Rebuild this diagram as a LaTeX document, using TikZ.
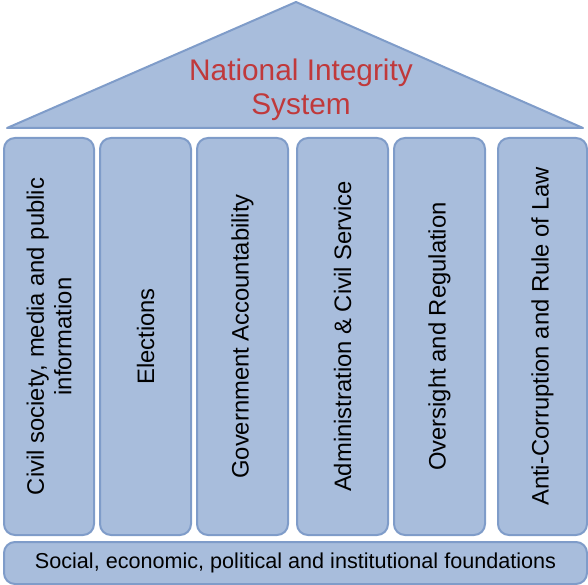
\documentclass[tikz,border=0pt]{standalone}
\usepackage{fontspec}
\setmainfont{Liberation Sans}
\definecolor{fillb}{HTML}{A8BDDC}
\definecolor{edgeb}{HTML}{7F9CC9}
\definecolor{titlered}{HTML}{C0393B}
\begin{document}
\begin{tikzpicture}[x=1pt,y=-1pt,
  part/.style={fill=fillb,draw=edgeb,line width=2pt,rounded corners=11pt},
  pillartext/.style={rotate=90,align=center,font=\fontsize{23.8}{27.5}\selectfont,text=black},
]
\useasboundingbox (0,0) rectangle (588,585);
% roof
\draw[fill=fillb,draw=edgeb,line width=2pt,line join=round] (7,128) coordinate (rl) -- (296,2) coordinate (ra) -- (583,128) coordinate (rr) -- cycle;
\node[text=titlered,align=center,font=\fontsize{29.8}{34}\selectfont] (title) at (301,90) {National Integrity\\System};
% pillars
\draw[part] (4,138) rectangle (94,535) node[midway,pillartext] (p1) {Civil society, media and public\\information};
\draw[part] (100,138) rectangle (191,535) node[midway,pillartext] (p2) {Elections};
\draw[part] (197,138) rectangle (288,535) node[midway,pillartext] (p3) {Government Accountability};
\draw[part] (297,138) rectangle (388,535) node[midway,pillartext] (p4) {Administration \& Civil Service};
\draw[part] (394,138) rectangle (485,535) node[midway,pillartext] (p5) {Oversight and Regulation};
\draw[part] (498,138) rectangle (587,535) node[midway,pillartext] (p6) {Anti-Corruption and Rule of Law};
% foundation
\draw[part] (4,542) rectangle (587,584) node[midway,font=\fontsize{21.6}{24}\selectfont] (found) {Social, economic, political and institutional foundations};
\end{tikzpicture}
\end{document}
